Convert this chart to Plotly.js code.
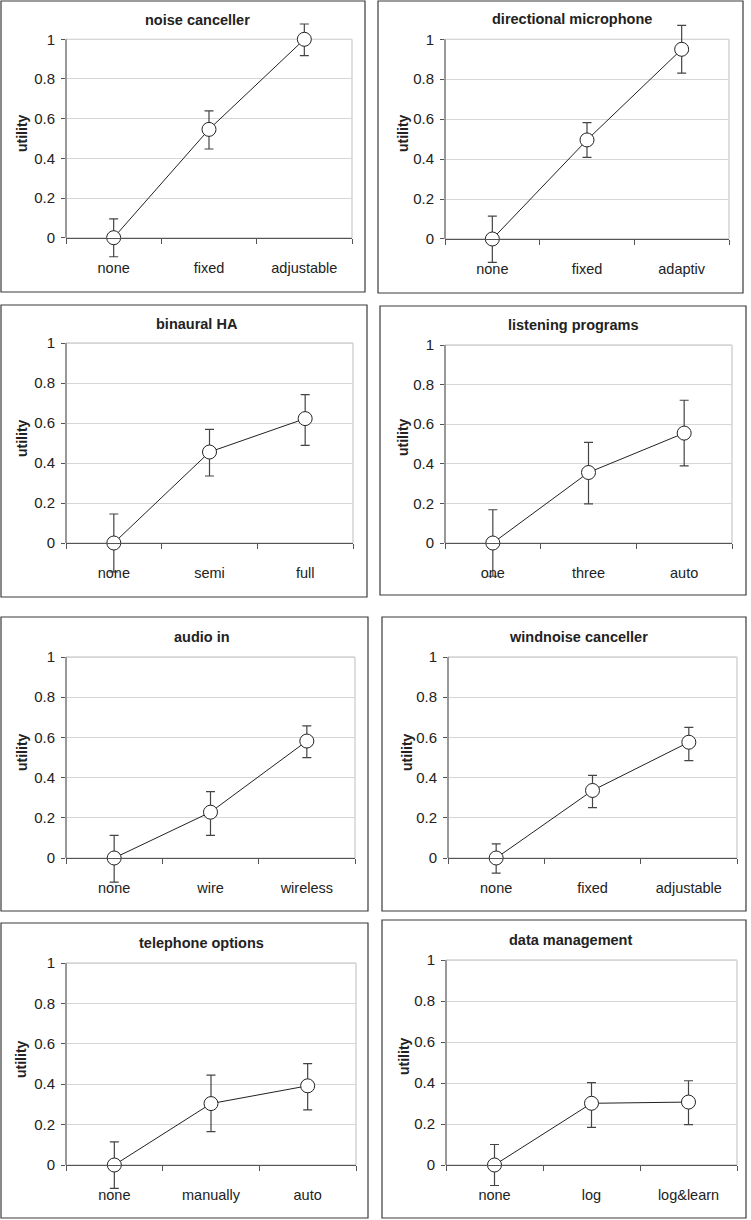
<!DOCTYPE html>
<html>
<head>
<meta charset="utf-8">
<script src="https://cdn.plot.ly/plotly-3.0.1.min.js"></script>
<style>html,body{margin:0;padding:0;background:#fff;}#chart{width:751px;height:1220px;}</style>
</head>
<body>
<div id="chart"></div>
<script>
const panelTitles = ["noise canceller","directional microphone","binaural HA","listening programs","audio in","windnoise canceller","telephone options","data management"];
const panelCategories = [
  ["none","fixed","adjustable"],
  ["none","fixed","adaptiv"],
  ["none","semi","full"],
  ["one","three","auto"],
  ["none","wire","wireless"],
  ["none","fixed","adjustable"],
  ["none","manually","auto"],
  ["none","log","log&learn"]
];
const panelValues = [
  [0,0.546,1.0],
  [0,0.496,0.95],
  [0,0.455,0.622],
  [0,0.356,0.555],
  [0,0.228,0.582],
  [0,0.336,0.576],
  [0,0.304,0.392],
  [0,0.301,0.307]
];
const errUp = [
  [0.095,0.093,0.077],
  [0.115,0.087,0.12],
  [0.145,0.113,0.12],
  [0.168,0.152,0.166],
  [0.113,0.102,0.075],
  [0.07,0.075,0.074],
  [0.114,0.141,0.11],
  [0.1,0.101,0.104]
];
const errDown = [
  [0.096,0.099,0.082],
  [0.117,0.087,0.119],
  [0.145,0.12,0.134],
  [0.168,0.158,0.165],
  [0.12,0.115,0.083],
  [0.075,0.085,0.092],
  [0.116,0.139,0.119],
  [0.1,0.117,0.11]
];
const yTicks = [0,0.2,0.4,0.6,0.8,1];
const yLabel = "utility";

// layout geometry in pixels
const W = 751, H = 1220;
const plotBoxes = [ // [x0,x1,yTop(=1),yBottom(=0)]
  [66,352,39.3,237.7],
  [445,729,39.3,239],
  [66,353,343,543],
  [445,732,345,543],
  [66,355,657,858],
  [448,737,657,858],
  [66,356,963,1165],
  [446,737,960,1165]
];
const frames = [ // [x0,x1,yTop,yBottom]
  [1,365,1,292],
  [378,743,1,293],
  [1,367,305,597],
  [380,746,306,595],
  [1,368,617,911],
  [382,746,617,911],
  [1,368,923,1218],
  [382,746,920,1218]
];
const titlePos = [[197,20],[572,19],[197,324],[573,325],[202,637],[578,637],[201,943],[570,940]];
const yTitlePos = [[22,133],[403,133],[22,438],[403,437],[22,752],[407,752],[21,1059],[404,1056]];

const px = x => x / W;
const py = y => 1 - y / H;
const FONT = '"Liberation Sans", Arial, Helvetica, sans-serif';
const Y_LO = -0.2, Y_HI = 1.12;  // extended range so error bars are not clipped
const AXIS = '#555';

const data = [];
const layout = {
  width: W, height: H,
  margin: {l:0,r:0,t:0,b:0},
  paper_bgcolor: '#fff', plot_bgcolor: 'rgba(0,0,0,0)',
  showlegend: false,
  font: {family: FONT, size: 14, color: '#222'},
  shapes: [], annotations: []
};

for (let i = 0; i < 8; i++) {
  const n = i + 1;
  const sfx = (n === 1 ? '' : String(n));
  const xa = 'xaxis' + sfx, ya = 'yaxis' + sfx;
  const xr = 'x' + sfx, yr = 'y' + sfx;
  const b = plotBoxes[i];
  const ppu = b[3] - b[2];
  const domBottom = b[3] - Y_LO * ppu;   // px
  const domTop = b[2] - (Y_HI - 1) * ppu; // px
  layout[xa] = {
    domain: [px(b[0]), px(b[1])], anchor: 'free', position: py(b[3]),
    type: 'category', categoryorder: 'array', categoryarray: panelCategories[i],
    range: [-0.5, 2.5], tickson: 'boundaries',
    ticks: 'outside', ticklen: 5, tickcolor: AXIS, tickwidth: 1,
    showline: true, linecolor: AXIS, linewidth: 1,
    showgrid: false, zeroline: false, fixedrange: true,
    tickfont: {family: FONT, size: 14.5, color: '#222'},
    ticklabelstandoff: 17
  };
  layout[ya] = {
    domain: [py(domBottom), py(domTop)], anchor: xr,
    range: [Y_LO, Y_HI], tickvals: yTicks,
    ticks: 'outside', ticklen: 4, tickcolor: AXIS, tickwidth: 1,
    showline: false,
    showgrid: true, gridcolor: '#d6d6d6', gridwidth: 1,
    zeroline: false, fixedrange: true,
    tickfont: {family: FONT, size: 15, color: '#222'},
    ticklabelstandoff: 3
  };
  data.push({
    type: 'scatter', mode: 'lines+markers',
    x: panelCategories[i], y: panelValues[i],
    xaxis: xr, yaxis: yr,
    cliponaxis: false,
    line: {color: '#222', width: 1},
    marker: {symbol: 'circle', size: 14, color: '#fff', line: {color: '#222', width: 1}},
    error_y: {type: 'data', symmetric: false, array: errUp[i], arrayminus: errDown[i],
              color: '#444', thickness: 1.2, width: 4.5},
    hoverinfo: 'skip'
  });
  // plot-area frame (0..1)
  layout.shapes.push({type: 'rect', xref: xr + ' domain', yref: yr,
    x0: 0, x1: 1, y0: 0, y1: 1, line: {color: '#bdbdbd', width: 1}, layer: 'below'});
  // left value axis line (0..1)
  layout.shapes.push({type: 'line', xref: xr + ' domain', yref: yr,
    x0: 0, x1: 0, y0: 0, y1: 1, line: {color: AXIS, width: 1}, layer: 'above'});
  // outer chart frame
  const f = frames[i];
  layout.shapes.push({type: 'rect', xref: 'paper', yref: 'paper',
    x0: px(f[0]), x1: px(f[1]), y0: py(f[3]), y1: py(f[2]),
    line: {color: '#3a3a3a', width: 1.2}, layer: 'above'});
  layout.annotations.push({
    text: '<b>' + panelTitles[i] + '</b>', xref: 'paper', yref: 'paper',
    x: px(titlePos[i][0]), y: py(titlePos[i][1]), xanchor: 'center', yanchor: 'middle',
    showarrow: false, font: {family: FONT, size: 14.5, color: '#222'}
  });
  layout.annotations.push({
    text: '<b>' + yLabel + '</b>', xref: 'paper', yref: 'paper', textangle: -90,
    x: px(yTitlePos[i][0]), y: py(yTitlePos[i][1]), xanchor: 'center', yanchor: 'middle',
    showarrow: false, font: {family: FONT, size: 14, color: '#222'}
  });
}

Plotly.newPlot('chart', data, layout, {staticPlot: true, displayModeBar: false});
</script>
</body>
</html>
